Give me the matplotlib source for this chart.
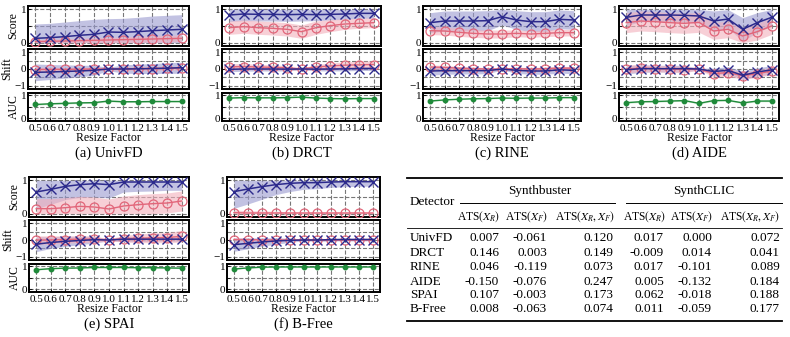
import matplotlib
matplotlib.use("Agg")
import matplotlib.pyplot as plt
import numpy as np
from matplotlib.lines import Line2D

plt.rcParams['font.family'] = ['Liberation Serif', 'DejaVu Serif']
plt.rcParams['mathtext.fontset'] = 'stix'

W, H = 790, 337

resize = [0.5, 0.6, 0.7, 0.8, 0.9, 1.0, 1.1, 1.2, 1.3, 1.4, 1.5]
tick_labels = ["0.5", "0.6", "0.7", "0.8", "0.9", "1.0", "1.1", "1.2", "1.3", "1.4", "1.5"]
detectors = ["UnivFD", "DRCT", "RINE", "AIDE", "SPAI", "B-Free"]
captions = ["(a) UnivFD", "(b) DRCT", "(c) RINE", "(d) AIDE", "(e) SPAI", "(f) B-Free"]

# blue: fake images, red: real images (one row per detector)
fake_score = [
    [0.13, 0.15, 0.18, 0.22, 0.25, 0.32, 0.31, 0.33, 0.36, 0.38, 0.40],
    [0.83, 0.86, 0.85, 0.85, 0.84, 0.85, 0.84, 0.85, 0.86, 0.88, 0.88],
    [0.60, 0.65, 0.65, 0.65, 0.66, 0.78, 0.68, 0.63, 0.63, 0.70, 0.68],
    [0.76, 0.83, 0.83, 0.83, 0.82, 0.80, 0.65, 0.71, 0.40, 0.60, 0.76],
    [0.65, 0.73, 0.82, 0.87, 0.90, 0.87, 0.95, 0.95, 0.95, 0.95, 0.95],
    [0.66, 0.74, 0.81, 0.87, 0.91, 0.93, 0.93, 0.95, 0.96, 0.96, 0.96],
]
fake_score_std = [
    [0.43, 0.43, 0.44, 0.44, 0.45, 0.40, 0.42, 0.43, 0.44, 0.44, 0.44],
    [0.20, 0.20, 0.20, 0.20, 0.20, 0.20, 0.18, 0.17, 0.16, 0.15, 0.15],
    [0.30, 0.30, 0.30, 0.30, 0.30, 0.25, 0.28, 0.30, 0.30, 0.28, 0.28],
    [0.25, 0.20, 0.20, 0.20, 0.20, 0.22, 0.30, 0.28, 0.35, 0.30, 0.25],
    [0.50, 0.45, 0.40, 0.38, 0.40, 0.40, 0.30, 0.28, 0.27, 0.25, 0.25],
    [0.50, 0.45, 0.38, 0.30, 0.25, 0.20, 0.18, 0.16, 0.15, 0.14, 0.13],
]
real_score = [
    [0.03, 0.04, 0.05, 0.06, 0.07, 0.08, 0.09, 0.10, 0.11, 0.12, 0.13],
    [0.45, 0.48, 0.45, 0.43, 0.40, 0.33, 0.45, 0.51, 0.56, 0.58, 0.60],
    [0.36, 0.35, 0.31, 0.28, 0.26, 0.26, 0.28, 0.26, 0.28, 0.30, 0.30],
    [0.60, 0.65, 0.63, 0.60, 0.58, 0.61, 0.35, 0.40, 0.20, 0.33, 0.50],
    [0.15, 0.15, 0.18, 0.22, 0.20, 0.14, 0.23, 0.27, 0.30, 0.32, 0.38],
    [0.03, 0.02, 0.02, 0.02, 0.02, 0.02, 0.02, 0.02, 0.02, 0.02, 0.02],
]
real_score_std = [
    [0.06, 0.06, 0.07, 0.07, 0.08, 0.08, 0.09, 0.09, 0.10, 0.10, 0.10],
    [0.20, 0.20, 0.20, 0.20, 0.20, 0.20, 0.20, 0.18, 0.16, 0.15, 0.15],
    [0.12, 0.12, 0.12, 0.12, 0.12, 0.12, 0.10, 0.10, 0.10, 0.10, 0.10],
    [0.30, 0.30, 0.30, 0.30, 0.30, 0.30, 0.25, 0.25, 0.20, 0.25, 0.25],
    [0.30, 0.30, 0.30, 0.30, 0.30, 0.30, 0.30, 0.30, 0.30, 0.30, 0.30],
    [0.08, 0.07, 0.06, 0.05, 0.04, 0.03, 0.03, 0.03, 0.03, 0.03, 0.03],
]
fake_shift = [
    [-0.20, -0.18, -0.15, -0.12, -0.08, 0.00, 0.00, 0.01, 0.03, 0.05, 0.08],
    [-0.02, 0.00, 0.00, 0.00, -0.01, 0.00, -0.01, 0.00, 0.01, 0.03, 0.03],
    [-0.12, -0.10, -0.10, -0.10, -0.10, 0.00, -0.08, -0.12, -0.12, -0.05, -0.08],
    [-0.05, 0.02, 0.02, 0.02, 0.02, 0.00, -0.15, -0.08, -0.38, -0.18, -0.05],
    [-0.25, -0.15, -0.08, -0.03, 0.02, 0.00, 0.05, 0.05, 0.05, 0.05, 0.05],
    [-0.28, -0.20, -0.12, -0.06, -0.02, 0.00, 0.00, 0.02, 0.03, 0.03, 0.03],
]
fake_shift_std = [
    [0.50, 0.45, 0.40, 0.35, 0.30, 0.10, 0.25, 0.28, 0.30, 0.32, 0.33],
    [0.15, 0.13, 0.12, 0.12, 0.10, 0.05, 0.10, 0.12, 0.12, 0.12, 0.12],
    [0.25, 0.22, 0.20, 0.20, 0.18, 0.05, 0.18, 0.20, 0.20, 0.20, 0.20],
    [0.25, 0.22, 0.20, 0.20, 0.20, 0.05, 0.20, 0.22, 0.25, 0.25, 0.25],
    [0.45, 0.35, 0.30, 0.25, 0.20, 0.05, 0.15, 0.15, 0.12, 0.12, 0.12],
    [0.40, 0.32, 0.25, 0.20, 0.12, 0.05, 0.08, 0.08, 0.08, 0.08, 0.08],
]
real_shift = [
    [-0.03, -0.02, -0.02, -0.01, 0.00, 0.00, 0.01, 0.02, 0.03, 0.04, 0.05],
    [0.13, 0.15, 0.12, 0.10, 0.07, 0.00, 0.12, 0.18, 0.23, 0.25, 0.27],
    [0.12, 0.10, 0.05, 0.02, 0.00, 0.00, 0.02, 0.00, 0.02, 0.05, 0.05],
    [0.00, 0.05, 0.03, 0.00, -0.03, 0.00, -0.27, -0.22, -0.40, -0.28, -0.12],
    [0.00, 0.00, 0.03, 0.05, 0.05, 0.00, 0.08, 0.10, 0.13, 0.15, 0.22],
    [0.03, 0.03, 0.01, 0.00, 0.00, 0.00, 0.00, 0.00, 0.00, 0.00, 0.00],
]
real_shift_std = [
    [0.12, 0.12, 0.10, 0.10, 0.08, 0.05, 0.08, 0.10, 0.10, 0.10, 0.10],
    [0.18, 0.18, 0.16, 0.15, 0.13, 0.05, 0.15, 0.18, 0.20, 0.22, 0.22],
    [0.12, 0.12, 0.10, 0.10, 0.08, 0.05, 0.08, 0.10, 0.10, 0.10, 0.10],
    [0.25, 0.22, 0.20, 0.20, 0.20, 0.05, 0.20, 0.22, 0.22, 0.22, 0.22],
    [0.25, 0.25, 0.22, 0.20, 0.20, 0.05, 0.20, 0.25, 0.30, 0.30, 0.35],
    [0.08, 0.06, 0.05, 0.04, 0.03, 0.02, 0.03, 0.03, 0.03, 0.03, 0.03],
]
auc = [
    [0.60, 0.63, 0.65, 0.67, 0.68, 0.75, 0.72, 0.72, 0.73, 0.73, 0.73],
    [0.88, 0.90, 0.89, 0.89, 0.90, 0.92, 0.88, 0.86, 0.85, 0.86, 0.86],
    [0.75, 0.80, 0.83, 0.85, 0.86, 0.88, 0.87, 0.88, 0.88, 0.90, 0.90],
    [0.68, 0.72, 0.73, 0.75, 0.77, 0.65, 0.77, 0.78, 0.67, 0.75, 0.75],
    [0.85, 0.90, 0.92, 0.93, 0.95, 0.95, 0.95, 0.94, 0.94, 0.93, 0.92],
    [0.88, 0.93, 0.96, 0.97, 0.97, 0.97, 0.97, 0.97, 0.97, 0.97, 0.97],
]
auc_std = [0.03, 0.02, 0.02, 0.03, 0.02, 0.01]

# table
table_cols = [r"ATS$(X_R)$", r"ATS$(X_F)$", r"ATS$(X_R, X_F)$"]
sb_ats_r = ["0.007", "0.146", "0.046", "-0.150", "0.107", "0.008"]
sb_ats_f = ["-0.061", "0.003", "-0.119", "-0.076", "-0.003", "-0.063"]
sb_ats_rf = ["0.120", "0.149", "0.073", "0.247", "0.173", "0.074"]
sc_ats_r = ["0.017", "-0.009", "0.017", "0.005", "0.062", "0.011"]
sc_ats_f = ["0.000", "0.014", "-0.101", "-0.132", "-0.018", "-0.059"]
sc_ats_rf = ["0.072", "0.041", "0.089", "0.184", "0.188", "0.177"]

BLUE = "#2c2a8c"
BLUE_FILL = "#9a9ad0"
RED = "#e2667a"
RED_FILL = "#f2b0bc"
GREEN = "#1f8a3a"
GREEN_FILL = "#a8d8b0"

fig = plt.figure(figsize=(W / 100, H / 100), dpi=100)


def px_axes(x0, x1, y0, y1):
    return fig.add_axes([x0 / W, 1 - y1 / H, (x1 - x0) / W, (y1 - y0) / H])


def style(ax, ylim, yticks, ylabels, grid_y):
    ax.set_xlim(0.45, 1.55)
    ax.set_ylim(*ylim)
    ax.set_xticks(resize)
    ax.set_yticks(yticks)
    ax.set_yticklabels(ylabels)
    for g in grid_y:
        ax.axhline(g, color="#777777", ls="--", lw=0.8, zorder=0)
    for xv in resize:
        ax.axvline(xv, color="#777777", ls="--", lw=0.8, zorder=0)
    for s in ax.spines.values():
        s.set_linewidth(1.4)
    ax.tick_params(labelsize=8, length=2.5, width=0.6, pad=1, direction="in")


def band(ax, m, s, color, lo, hi):
    m = np.array(m)
    s = np.array(s)
    ax.fill_between(resize, np.clip(m - s, lo, hi), np.clip(m + s, lo, hi),
                    color=color, alpha=0.6, lw=0, zorder=1)


def draw_panel(i, x0, x1, ytop, ylab):
    sc = px_axes(x0, x1, ytop, ytop + 40)
    sh = px_axes(x0, x1, ytop + 43, ytop + 83)
    au = px_axes(x0, x1, ytop + 87, ytop + 115)

    style(sc, (-0.1, 1.1), [0, 0.5, 1], ["0", "", "1"], [0, 0.5, 1])
    band(sc, fake_score[i], fake_score_std[i], BLUE_FILL, 0, 1)
    band(sc, real_score[i], real_score_std[i], RED_FILL, 0, 1)
    sc.plot(resize, real_score[i], color=RED, marker="o", mfc="none", ms=6.5, mew=0.9, lw=1.0, zorder=3)
    sc.plot(resize, fake_score[i], color=BLUE, marker="x", ms=6.5, mew=1.0, lw=1.1, zorder=4)

    style(sh, (-1.2, 1.2), [-1, 0, 1], ["\u22121", "0", "1"], [-1, -0.5, 0, 0.5, 1])
    band(sh, fake_shift[i], fake_shift_std[i], BLUE_FILL, -1, 1)
    band(sh, real_shift[i], real_shift_std[i], RED_FILL, -1, 1)
    sh.plot(resize, real_shift[i], color=RED, marker="o", mfc="none", ms=6.5, mew=0.9, lw=1.0, zorder=3)
    sh.plot(resize, fake_shift[i], color=BLUE, marker="x", ms=6.5, mew=1.0, lw=1.1, zorder=4)

    style(au, (-0.12, 1.1), [0, 0.5, 1], ["0", "", "1"], [0, 0.5, 1])
    a = np.array(auc[i])
    au.fill_between(resize, a - auc_std[i], a + auc_std[i], color=GREEN_FILL, alpha=0.6, lw=0, zorder=1)
    au.plot(resize, auc[i], color=GREEN, marker="o", ms=3.2, lw=1.0, zorder=3)

    for ax in (sc, sh):
        ax.set_xticklabels([])
    au.set_xticklabels(tick_labels, fontsize=8)
    au.tick_params(axis="x", pad=2)
    au.set_xlabel("Resize Factor", fontsize=8.5, labelpad=-0.5)

    if ylab:
        sc.set_ylabel("Score", fontsize=8.5, labelpad=1)
        sh.set_ylabel("Shift", fontsize=8.5, labelpad=1)
        au.set_ylabel("AUC", fontsize=8.5, labelpad=1)

    fig.text((x0 + x1) / 2 / W, 1 - (ytop + 147) / H, captions[i],
             ha="center", va="center", fontsize=10.5)


draw_panel(0, 28, 189, 6, True)
draw_panel(1, 222, 381, 6, False)
draw_panel(2, 423, 581, 6, False)
draw_panel(3, 619, 779, 6, False)
draw_panel(4, 29, 189, 177, True)
draw_panel(5, 227, 380, 177, False)


# ---- table ----
def ft(x, y, s, **kw):
    fig.text(x / W, 1 - y / H, s, **kw)


def hline(x0, x1, y, lw):
    fig.add_artist(Line2D([x0 / W, x1 / W], [1 - y / H, 1 - y / H], color="black", lw=lw))


hline(407, 782, 178, 1.3)
hline(460, 615, 203, 0.7)
hline(626, 782, 203, 0.7)
hline(407, 782, 228, 0.6)
hline(407, 782, 321, 1.3)

ft(410, 202, "Detector", ha="left", va="center", fontsize=9.5)
ft(540, 191, "Synthbuster", ha="center", va="center", fontsize=9.5)
ft(704, 191, "SynthCLIC", ha="center", va="center", fontsize=9.5)

sub_x = [479, 527, 585, 645, 692, 750]
for k, cx in enumerate(sub_x):
    ft(cx, 217, table_cols[k % 3], ha="center", va="center", fontsize=8.3)

row_y = [238, 253, 267, 282, 295, 309]
val_x = [499, 547, 613, 664, 712, 780]
cols = [sb_ats_r, sb_ats_f, sb_ats_rf, sc_ats_r, sc_ats_f, sc_ats_rf]
for r, ry in enumerate(row_y):
    ft(410, ry, detectors[r], ha="left", va="center", fontsize=9.5)
    for c, cx in enumerate(val_x):
        ft(cx, ry, cols[c][r], ha="right", va="center", fontsize=9.5)

fig.savefig("out.png", dpi=100)
